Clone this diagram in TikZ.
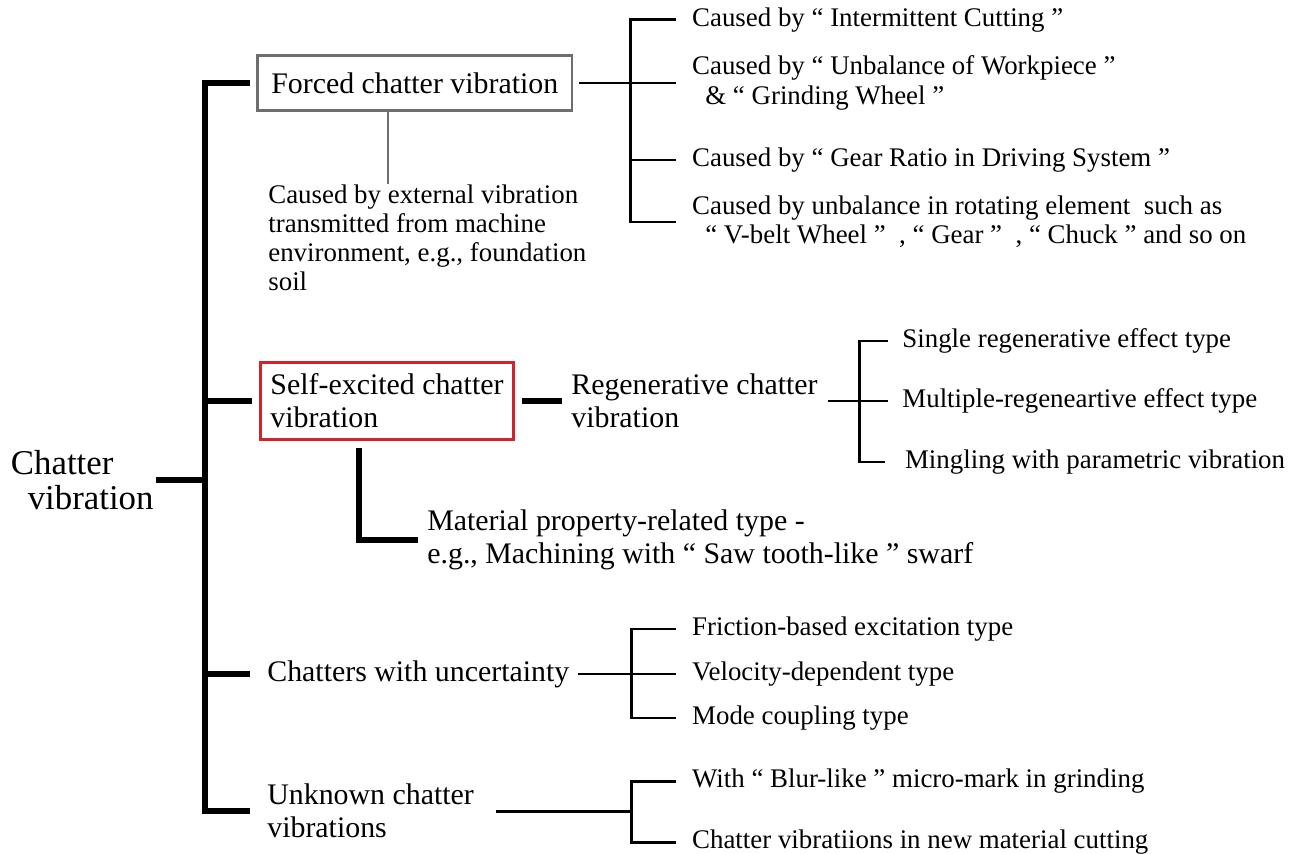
\documentclass[tikz,border=0pt]{standalone}
\usepackage{fontspec}
\setmainfont{Liberation Serif}
\definecolor{boxgray}{HTML}{6E6E6E}
\definecolor{boxred}{HTML}{D2232A}
\begin{document}
\begin{tikzpicture}[x=0.02cm, y=-0.02cm,
  bar/.style={line width=3.4pt},
  twig/.style={line width=1.7pt},
  top/.style={font=\fontsize{19.8}{20}\selectfont, align=left, anchor=west, inner xsep=1.5pt, inner ysep=0pt},
  mid/.style={font=\fontsize{17}{18.8}\selectfont, align=left, anchor=west, inner sep=0pt},
  leaf/.style={font=\fontsize{15.3}{16.6}\selectfont, align=left, anchor=west, inner xsep=9pt, inner ysep=0pt},
  frame/.style={draw=#1, line width=1.7pt, font=\fontsize{17}{18.8}\selectfont, align=left, anchor=west}]
\useasboundingbox (0,0) rectangle (1300,854);
\coordinate (spine) at (205,0);
\node[top] (root) at (8,480) {Chatter\\\hspace*{9.6pt}vibration};
\node[frame=boxgray, minimum width=179pt, minimum height=31pt] (forced) at (256,83) {Forced chatter vibration};
\node[frame=boxred, minimum width=144pt, minimum height=44pt] (self) at (259,401) {Self-excited chatter\\vibration};
\node[mid] (regen) at (571,401) {Regenerative chatter\\vibration};
\node[mid] (mat) at (427,540) {Material property-related type -\\e.g., Machining with “ Saw tooth-like ” swarf};
\node[mid] (unc) at (267,674) {Chatters with uncertainty};
\node[mid] (unk) at (267,811) {Unknown chatter\\vibrations};
\node[leaf, anchor=north west, inner xsep=0pt] (ext) at (268,184) {Caused by external vibration\\transmitted from machine\\environment, e.g., foundation\\soil};
\node[leaf] (fc1) at (676,20) {Caused by “ Intermittent Cutting ”};
\node[leaf] (fc2) at (676,83) {Caused by “ Unbalance of Workpiece ”\\\hspace*{7.5pt}\& “ Grinding Wheel ”};
\node[leaf] (fc3) at (676,160) {Caused by “ Gear Ratio in Driving System ”};
\node[leaf] (fc4) at (676,222) {Caused by unbalance in rotating element\ \ such as\\\hspace*{7.5pt}“ V-belt Wheel ”\ \ , “ Gear ”\ \ , “ Chuck ” and so on};
\node[leaf, inner xsep=8pt] (rg1) at (888,341) {Single regenerative effect type};
\node[leaf, inner xsep=8pt] (rg2) at (888,401) {Multiple-regeneartive effect type};
\node[leaf, inner xsep=9.5pt] (rg3) at (888,462) {Mingling with parametric vibration};
\node[leaf] (uc1) at (676,629) {Friction-based excitation type};
\node[leaf] (uc2) at (676,674) {Velocity-dependent type};
\node[leaf] (uc3) at (676,718) {Mode coupling type};
\node[leaf] (uk1) at (676,781) {With “ Blur-like ” micro-mark in grinding};
\node[leaf] (uk2) at (676,842) {Chatter vibratiions in new material cutting};
\coordinate (fj) at (630,83);
\coordinate (rj) at (859,401);
\coordinate (uj) at (631,674);
\coordinate (kj) at (631,811);
\coordinate (gx) at ([xshift=-15.3pt]forced.south);
\draw[bar] (root.east) -- (root.east -| spine);
\draw[bar] ([xshift=-3.4pt]forced.west) -- (forced.west -| spine) -- (unk.west -| spine) -- ([xshift=-9.5pt]unk.west);
\draw[bar] (self.west -| spine) -- ([xshift=-4pt]self.west);
\draw[bar] (unc.west -| spine) -- ([xshift=-9.5pt]unc.west);
\draw[bar] ([xshift=4pt]self.east) -- ([xshift=-5pt]regen.west);
\draw[bar] ([xshift=-16pt,yshift=-4pt]self.south) |- ([xshift=-5pt]mat.west);
\draw[line width=1.5pt, boxgray] (gx) -- (gx |- ext.north);
\draw[twig, shorten <=3.4pt] (forced.east) -- (fc2.west);
\draw[twig] (fc1.west) -| (fj) |- (fc4.west);
\draw[twig] (fc3.west -| fj) -- (fc3.west);
\draw[twig, shorten <=5.5pt] (regen.east) -- (rg2.west);
\draw[twig] (rg1.west) -| (rj) |- ([xshift=-1.5pt]rg3.west);
\draw[twig, shorten <=5pt] (unc.east) -- (uc2.west);
\draw[twig] (uc1.west) -| (uj) |- (uc3.west);
\draw[twig, shorten <=12.5pt] (unk.east) -- (kj);
\draw[twig] (uk1.west) -| (kj) |- (uk2.west);
\end{tikzpicture}
\end{document}
